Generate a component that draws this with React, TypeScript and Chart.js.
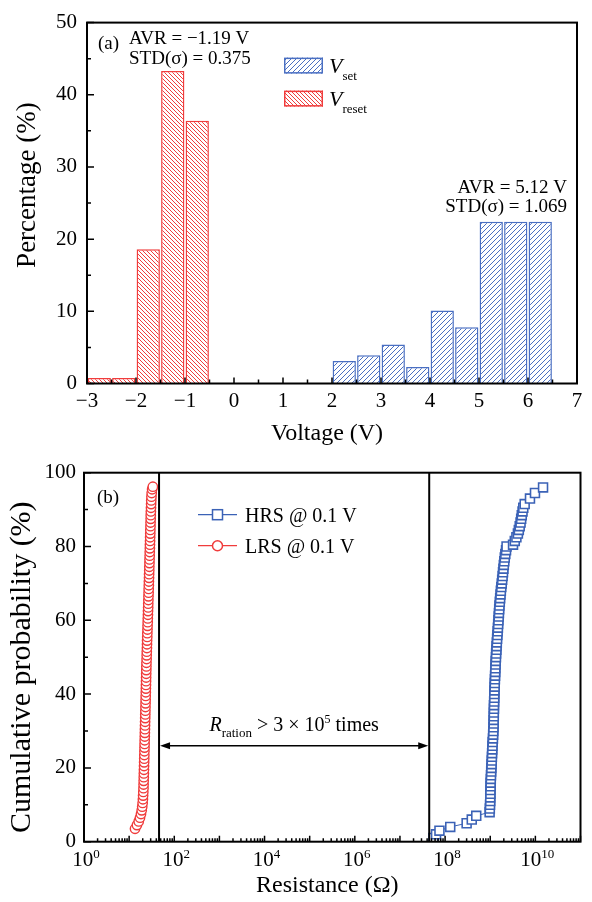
import React, { useEffect, useRef } from 'react';
import { Chart, registerables } from 'chart.js';

Chart.register(...registerables);

// ---------- Data: panel (a) ----------
const resetBinCenters = [-2.75, -2.25, -1.75, -1.25, -0.75];
const resetPercent = [0.75, 0.75, 18.6, 43.3, 36.4];
const setBinCenters = [2.25, 2.75, 3.25, 3.75, 4.25, 4.75, 5.25, 5.75, 6.25];
const setPercent = [3.1, 3.9, 5.4, 2.3, 10.1, 7.8, 22.4, 22.4, 22.4];
const voltageTicks = [-3, -2, -1, 0, 1, 2, 3, 4, 5, 6, 7];
const voltageMinorTicks = [-2.5, -1.5, -0.5, 0.5, 1.5, 2.5, 3.5, 4.5, 5.5, 6.5];
const percentTicks = [0, 10, 20, 30, 40, 50];
const percentMinorTicks = [5, 15, 25, 35, 45];

// ---------- Data: panel (b) ----------
const hrsProbability = [
  1, 2, 3, 4, 5, 6, 7, 8, 9, 10, 11, 12, 13, 14, 15, 16, 17, 18, 19, 20,
  21, 22, 23, 24, 25, 26, 27, 28, 29, 30, 31, 32, 33, 34, 35, 36, 37, 38, 39, 40,
  41, 42, 43, 44, 45, 46, 47, 48, 49, 50, 51, 52, 53, 54, 55, 56, 57, 58, 59, 60,
  61, 62, 63, 64, 65, 66, 67, 68, 69, 70, 71, 72, 73, 74, 75, 76, 77, 78, 79, 80,
  80.5, 81.5, 82.5, 83.5, 84.5, 85.5, 86.5, 87.5, 88.5, 89.5, 90.5, 91.5, 93, 94.5, 96,
];
const hrsResistance = [
  5.5e7, 6.3e7, 7.5e7, 1.3e8, 3.0e8, 3.9e8, 4.9e8, 9.7e8, 9.8e8, 9.9e8,
  1.0e9, 1.0e9, 1.01e9, 1.01e9, 1.02e9, 1.02e9, 1.03e9, 1.04e9, 1.05e9, 1.06e9,
  1.07e9, 1.08e9, 1.09e9, 1.10e9, 1.11e9, 1.12e9, 1.13e9, 1.15e9, 1.16e9, 1.17e9,
  1.18e9, 1.19e9, 1.19e9, 1.20e9, 1.20e9, 1.21e9, 1.21e9, 1.22e9, 1.23e9, 1.23e9,
  1.24e9, 1.25e9, 1.26e9, 1.27e9, 1.28e9, 1.29e9, 1.30e9, 1.31e9, 1.32e9, 1.34e9,
  1.35e9, 1.37e9, 1.38e9, 1.40e9, 1.42e9, 1.44e9, 1.46e9, 1.48e9, 1.50e9, 1.52e9,
  1.54e9, 1.56e9, 1.58e9, 1.60e9, 1.63e9, 1.66e9, 1.69e9, 1.72e9, 1.76e9, 1.80e9,
  1.84e9, 1.88e9, 1.92e9, 1.96e9, 2.00e9, 2.05e9, 2.10e9, 2.16e9, 2.24e9, 2.30e9,
  3.2e9, 3.5e9, 3.8e9, 4.1e9, 4.3e9, 4.5e9, 4.7e9, 4.85e9, 5.0e9, 5.2e9,
  5.4e9, 5.8e9, 7.6e9, 9.8e9, 1.48e10,
];
const lrsProbability = [
  3.5, 4.5, 5.5, 6.5, 7.5, 8.5, 9.5, 10.5, 11.5, 12.5, 13.5, 14.5, 15.5, 16.5, 17.5,
  18.5, 19.5, 20.5, 21.5, 22.5, 23.5, 24.5, 25.5, 26.5, 27.5, 28.5, 29.5, 30.5, 31.5,
  32.5, 33.5, 34.5, 35.5, 36.5, 37.5, 38.5, 39.5, 40.5, 41.5, 42.5, 43.5, 44.5, 45.5,
  46.5, 47.5, 48.5, 49.5, 50.5, 51.5, 52.5, 53.5, 54.5, 55.5, 56.5, 57.5, 58.5, 59.5,
  60.5, 61.5, 62.5, 63.5, 64.5, 65.5, 66.5, 67.5, 68.5, 69.5, 70.5, 71.5, 72.5, 73.5,
  74.5, 75.5, 76.5, 77.5, 78.5, 79.5, 80.5, 81.5, 82.5, 83.5, 84.5, 85.5, 86.5, 87.5,
  88.5, 89.5, 90.5, 91.5, 92.5, 93.5, 94.5, 95.5, 96.2,
];
const lrsResistance = [
  13.5, 14.9, 16.3, 17.4, 18.3, 19.0, 19.5, 19.9, 20.2, 20.4, 20.6, 20.8, 20.9, 21.0, 21.1,
  21.2, 21.3, 21.4, 21.5, 21.6, 21.7, 21.8, 21.9, 22.0, 22.1, 22.2, 22.3, 22.4, 22.5,
  22.6, 22.7, 22.8, 22.9, 23.0, 23.1, 23.2, 23.3, 23.4, 23.5, 23.6, 23.7, 23.8, 23.9,
  24.0, 24.1, 24.2, 24.4, 24.5, 24.6, 24.8, 24.9, 25.0, 25.2, 25.3, 25.5, 25.6, 25.8,
  25.9, 26.1, 26.2, 26.4, 26.5, 26.7, 26.8, 27.0, 27.1, 27.3, 27.4, 27.6, 27.7, 27.9,
  28.0, 28.2, 28.3, 28.5, 28.6, 28.8, 28.9, 29.1, 29.2, 29.4, 29.5, 29.7, 29.8, 30.0,
  30.1, 30.3, 30.5, 30.7, 30.9, 31.2, 31.6, 32.3, 33.5,
];
const resistanceLabelExponents = [0, 2, 4, 6, 8, 10];
const resistanceDecades = [0, 1, 2, 3, 4, 5, 6, 7, 8, 9, 10, 11];
const probabilityTicks = [0, 20, 40, 60, 80, 100];
const probabilityMinorTicks = [10, 30, 50, 70, 90];
const boundaryResistances = [46, 4.45e7];
const arrowProbability = 26;

// ---------- Styles ----------
const SERIF = '"Liberation Serif", "Times New Roman", serif';
const F = (size: number, style = '') => `${style} ${size}px ${SERIF}`.trim();
const RED = '#f03c3c';
const BLUE = '#3b62b6';
const BLUE_BAR = '#4a6fc2';

type Part = { t: string; font: string; dy?: number };
function drawParts(ctx: CanvasRenderingContext2D, parts: Part[], x: number, y: number, align: 'left' | 'center' | 'right') {
  let w = 0;
  for (const p of parts) { ctx.font = p.font; w += ctx.measureText(p.t).width; }
  let cx = align === 'left' ? x : align === 'center' ? x - w / 2 : x - w;
  ctx.textAlign = 'left';
  ctx.textBaseline = 'alphabetic';
  for (const p of parts) {
    ctx.font = p.font;
    ctx.fillText(p.t, cx, y + (p.dy || 0));
    cx += ctx.measureText(p.t).width;
  }
}

function drawTitle(ctx: CanvasRenderingContext2D, text: string, size: number, cx: number, cy: number, vertical: boolean) {
  ctx.save();
  ctx.fillStyle = '#000';
  ctx.font = F(size);
  ctx.textAlign = 'center';
  ctx.textBaseline = 'middle';
  ctx.translate(cx, cy);
  if (vertical) ctx.rotate(-Math.PI / 2);
  ctx.fillText(text, 0, 0);
  ctx.restore();
}

function makeHatch(ctx: CanvasRenderingContext2D, color: string, s: number, dir: 'back' | 'fwd') {
  const c = document.createElement('canvas');
  c.width = s; c.height = s;
  const g = c.getContext('2d')!;
  g.fillStyle = '#ffffff';
  g.fillRect(0, 0, s, s);
  g.strokeStyle = color;
  g.lineWidth = 1;
  g.beginPath();
  for (let k = -1; k <= 1; k++) {
    if (dir === 'back') { g.moveTo(k * s, 0); g.lineTo(k * s + s, s); }
    else { g.moveTo(k * s, s); g.lineTo(k * s + s, 0); }
  }
  g.stroke();
  return ctx.createPattern(c, 'repeat')!;
}

function frame(ctx: CanvasRenderingContext2D, a: { left: number; right: number; top: number; bottom: number }) {
  ctx.save();
  ctx.strokeStyle = '#000';
  ctx.lineWidth = 2;
  ctx.strokeRect(a.left, a.top, a.right - a.left, a.bottom - a.top);
  ctx.restore();
}

const topPlugin = {
  id: 'topDecor',
  afterDatasetsDraw(chart: any) {
    const { ctx, chartArea: a, scales: { x, y } } = chart;
    ctx.save();
    ctx.strokeStyle = '#000';
    ctx.lineWidth = 1.5;
    ctx.beginPath();
    for (const v of voltageTicks) { const px = x.getPixelForValue(v); ctx.moveTo(px, a.bottom); ctx.lineTo(px, a.bottom - 6); }
    for (const v of voltageMinorTicks) { const px = x.getPixelForValue(v); ctx.moveTo(px, a.bottom); ctx.lineTo(px, a.bottom - 4); }
    for (const v of percentTicks) { const py = y.getPixelForValue(v); ctx.moveTo(a.left, py); ctx.lineTo(a.left + 7, py); }
    for (const v of percentMinorTicks) { const py = y.getPixelForValue(v); ctx.moveTo(a.left, py); ctx.lineTo(a.left + 4, py); }
    ctx.stroke();
    ctx.restore();
    frame(ctx, a);

    drawTitle(ctx, 'Voltage (V)', 24, (a.left + a.right) / 2 - 5, a.bottom + 50, false);
    drawTitle(ctx, 'Percentage (%)', 27, 28, (a.top + a.bottom) / 2 - 18, true);

    ctx.save();
    ctx.fillStyle = '#000';
    drawParts(ctx, [{ t: '(a)', font: F(19) }], a.left + 11, a.top + 26, 'left');
    drawParts(ctx, [{ t: 'AVR = \u22121.19 V', font: F(19) }], a.left + 42, a.top + 21, 'left');
    drawParts(ctx, [{ t: 'STD(\u03c3) = 0.375', font: F(19) }], a.left + 42, a.top + 41, 'left');
    drawParts(ctx, [{ t: 'AVR = 5.12 V', font: F(19) }], a.right - 10, a.top + 170, 'right');
    drawParts(ctx, [{ t: 'STD(\u03c3) = 1.069', font: F(19) }], a.right - 10, a.top + 189, 'right');

    // legend
    const ds = chart.data.datasets;
    const items = [
      { ds: ds[0], y: a.top + 35, sub: 'set' },
      { ds: ds[1], y: a.top + 68, sub: 'reset' },
    ];
    for (const it of items) {
      const bx = a.left + 197, bw = 39, bh = 16;
      ctx.fillStyle = it.ds.backgroundColor;
      ctx.fillRect(bx, it.y, bw, bh);
      ctx.strokeStyle = it.ds.borderColor;
      ctx.lineWidth = 1.5;
      ctx.strokeRect(bx + 0.75, it.y + 0.75, bw - 1.5, bh - 1.5);
      ctx.fillStyle = '#000';
      drawParts(ctx, [{ t: 'V', font: F(22, 'italic') }, { t: it.sub, font: F(13), dy: 7 }], bx + bw + 6, it.y + 15, 'left');
    }
    ctx.restore();
  },
};

const bottomPlugin = {
  id: 'bottomDecor',
  afterDatasetsDraw(chart: any) {
    const { ctx, chartArea: a, scales: { x, y } } = chart;
    ctx.save();
    ctx.strokeStyle = '#000';
    ctx.lineWidth = 1.5;
    ctx.beginPath();
    for (const d of resistanceDecades) {
      const px = x.getPixelForValue(Math.pow(10, d));
      ctx.moveTo(px, a.bottom); ctx.lineTo(px, a.bottom - 6);
      if (d < 11) {
        for (let m = 2; m <= 9; m++) {
          const pm = x.getPixelForValue(m * Math.pow(10, d));
          ctx.moveTo(pm, a.bottom); ctx.lineTo(pm, a.bottom - 3.5);
        }
      }
    }
    for (const v of probabilityTicks) { const py = y.getPixelForValue(v); ctx.moveTo(a.left, py); ctx.lineTo(a.left + 7, py); }
    for (const v of probabilityMinorTicks) { const py = y.getPixelForValue(v); ctx.moveTo(a.left, py); ctx.lineTo(a.left + 4, py); }
    ctx.stroke();

    // boundaries
    ctx.lineWidth = 2;
    ctx.beginPath();
    for (const r of boundaryResistances) {
      const px = x.getPixelForValue(r);
      ctx.moveTo(px, a.top); ctx.lineTo(px, a.bottom);
    }
    ctx.stroke();

    // arrow
    const x1 = x.getPixelForValue(boundaryResistances[0]);
    const x2 = x.getPixelForValue(boundaryResistances[1]);
    const ay = y.getPixelForValue(arrowProbability);
    ctx.lineWidth = 1.5;
    ctx.beginPath();
    ctx.moveTo(x1 + 8, ay); ctx.lineTo(x2 - 8, ay);
    ctx.stroke();
    ctx.fillStyle = '#000';
    ctx.beginPath();
    ctx.moveTo(x1 + 1, ay); ctx.lineTo(x1 + 11, ay - 3.5); ctx.lineTo(x1 + 11, ay + 3.5); ctx.closePath();
    ctx.moveTo(x2 - 1, ay); ctx.lineTo(x2 - 11, ay - 3.5); ctx.lineTo(x2 - 11, ay + 3.5); ctx.closePath();
    ctx.fill();
    ctx.restore();

    frame(ctx, a);

    drawTitle(ctx, 'Resistance (\u03a9)', 24, (a.left + a.right) / 2 - 5, a.bottom + 44, false);
    drawTitle(ctx, 'Cumulative probability (%)', 30, 22, (a.top + a.bottom) / 2 + 10, true);

    ctx.save();
    ctx.fillStyle = '#000';
    drawParts(ctx, [
      { t: 'R', font: F(20, 'italic') },
      { t: 'ration', font: F(13), dy: 6 },
      { t: ' > 3 \u00d7 10', font: F(20) },
      { t: '5', font: F(12), dy: -8 },
      { t: ' times', font: F(20) },
    ], (x1 + x2) / 2, ay - 15, 'center');

    // x labels
    for (const e of resistanceLabelExponents) {
      const px = x.getPixelForValue(Math.pow(10, e));
      drawParts(ctx, [{ t: '10', font: F(21) }, { t: String(e), font: F(13), dy: -8 }], px + 2, a.bottom + 24, 'center');
    }

    drawParts(ctx, [{ t: '(b)', font: F(19) }], a.left + 13, a.top + 30, 'left');

    // legend
    const ds = chart.data.datasets;
    const rows = [
      { ds: ds[0], y: a.top + 42, text: 'HRS @ 0.1 V' },
      { ds: ds[1], y: a.top + 73, text: 'LRS @ 0.1 V' },
    ];
    for (const r of rows) {
      const lx = a.left + 114, lw = 39;
      ctx.strokeStyle = r.ds.borderColor;
      ctx.lineWidth = 1.2;
      ctx.beginPath(); ctx.moveTo(lx, r.y); ctx.lineTo(lx + lw, r.y); ctx.stroke();
      ctx.fillStyle = '#fff';
      ctx.lineWidth = 1.5;
      const cx = lx + lw / 2;
      if (r.ds.pointStyle === 'rect') {
        ctx.fillRect(cx - 5, r.y - 5, 10, 10);
        ctx.strokeRect(cx - 5, r.y - 5, 10, 10);
      } else {
        ctx.beginPath(); ctx.arc(cx, r.y, 5, 0, Math.PI * 2); ctx.fill(); ctx.stroke();
      }
      ctx.fillStyle = '#000';
      drawParts(ctx, [{ t: r.text, font: F(20) }], lx + lw + 8, r.y + 7, 'left');
    }
    ctx.restore();
  },
};

function TopChart() {
  const ref = useRef<HTMLCanvasElement>(null);
  useEffect(() => {
    const canvas = ref.current!;
    const c2d = canvas.getContext('2d')!;
    const blueHatch = makeHatch(c2d, BLUE_BAR, 5, 'fwd');
    const redHatch = makeHatch(c2d, RED, 4, 'back');
    const chart = new Chart(canvas, {
      type: 'bar',
      data: {
        datasets: [
          {
            label: 'Vset',
            data: setBinCenters.map((v, i) => ({ x: v, y: setPercent[i] })),
            backgroundColor: blueHatch as any,
            borderColor: BLUE_BAR,
            borderWidth: 1.5,
            grouped: false,
            barPercentage: 0.95,
            categoryPercentage: 1,
          } as any,
          {
            label: 'Vreset',
            data: resetBinCenters.map((v, i) => ({ x: v, y: resetPercent[i] })),
            backgroundColor: redHatch as any,
            borderColor: RED,
            borderWidth: 1.5,
            grouped: false,
            barPercentage: 0.95,
            categoryPercentage: 1,
          } as any,
        ],
      },
      options: {
        animation: false,
        responsive: false,
        maintainAspectRatio: false,
        layout: { padding: { left: 0, right: 15, top: 18.5, bottom: 0 } },
        plugins: { legend: { display: false }, tooltip: { enabled: false } },
        scales: {
          x: {
            type: 'linear', min: -3, max: 7, offset: false,
            grid: { display: false, drawTicks: false },
            border: { display: false },
            afterBuildTicks: (s: any) => { s.ticks = voltageTicks.map((v) => ({ value: v })); },
            ticks: {
              color: '#000', font: { family: SERIF, size: 21 }, padding: 5, maxRotation: 0,
              callback: (v: any) => String(v).replace('-', '\u2212'),
            },
            title: { display: false },
            afterFit: (s: any) => { s.height = 66.5; },
          },
          y: {
            min: 0, max: 50,
            grid: { display: false, drawTicks: false },
            border: { display: false },
            afterBuildTicks: (s: any) => { s.ticks = percentTicks.map((v) => ({ value: v })); },
            ticks: { color: '#000', font: { family: SERIF, size: 21 }, padding: 10 },
            title: { display: false },
            afterFit: (s: any) => { s.width = 87; },
          },
        },
      },
      plugins: [topPlugin],
    } as any);
    return () => chart.destroy();
  }, []);
  return <canvas ref={ref} width={592} height={450} style={{ display: 'block', width: 592, height: 450 }} />;
}

function BottomChart() {
  const ref = useRef<HTMLCanvasElement>(null);
  useEffect(() => {
    const canvas = ref.current!;
    const chart = new Chart(canvas, {
      type: 'scatter',
      data: {
        datasets: [
          {
            label: 'HRS @ 0.1 V',
            data: hrsResistance.map((r, i) => ({ x: r, y: hrsProbability[i] })),
            showLine: true,
            borderColor: BLUE,
            borderWidth: 1,
            pointStyle: 'rect',
            pointRadius: 6.3,
            pointBorderWidth: 1.6,
            pointBackgroundColor: '#ffffff',
            pointBorderColor: BLUE,
          },
          {
            label: 'LRS @ 0.1 V',
            data: lrsResistance.map((r, i) => ({ x: r, y: lrsProbability[i] })),
            showLine: true,
            borderColor: RED,
            borderWidth: 1,
            pointStyle: 'circle',
            pointRadius: 4.7,
            pointBorderWidth: 1.4,
            pointBackgroundColor: '#ffffff',
            pointBorderColor: RED,
          },
        ],
      },
      options: {
        animation: false,
        responsive: false,
        maintainAspectRatio: false,
        layout: { padding: { left: 0, right: 11.5, top: 22.7, bottom: 0 } },
        plugins: { legend: { display: false }, tooltip: { enabled: false } },
        scales: {
          x: {
            type: 'logarithmic', min: 1, max: 1e11,
            grid: { display: false, drawTicks: false },
            border: { display: false },
            ticks: { display: false },
            title: { display: false },
            afterFit: (s: any) => { s.height = 60.3; },
          },
          y: {
            min: 0, max: 100,
            grid: { display: false, drawTicks: false },
            border: { display: false },
            afterBuildTicks: (s: any) => { s.ticks = probabilityTicks.map((v) => ({ value: v })); },
            ticks: { color: '#000', font: { family: SERIF, size: 21 }, padding: 8 },
            title: { display: false },
            afterFit: (s: any) => { s.width = 84; },
          },
        },
      },
      plugins: [bottomPlugin],
    } as any);
    return () => chart.destroy();
  }, []);
  return <canvas ref={ref} width={592} height={452} style={{ display: 'block', width: 592, height: 452 }} />;
}

export default function App() {
  return (
    <div style={{ position: 'absolute', left: 0, top: 0, width: 592, height: 902, background: '#fff' }}>
      <TopChart />
      <BottomChart />
    </div>
  );
}
